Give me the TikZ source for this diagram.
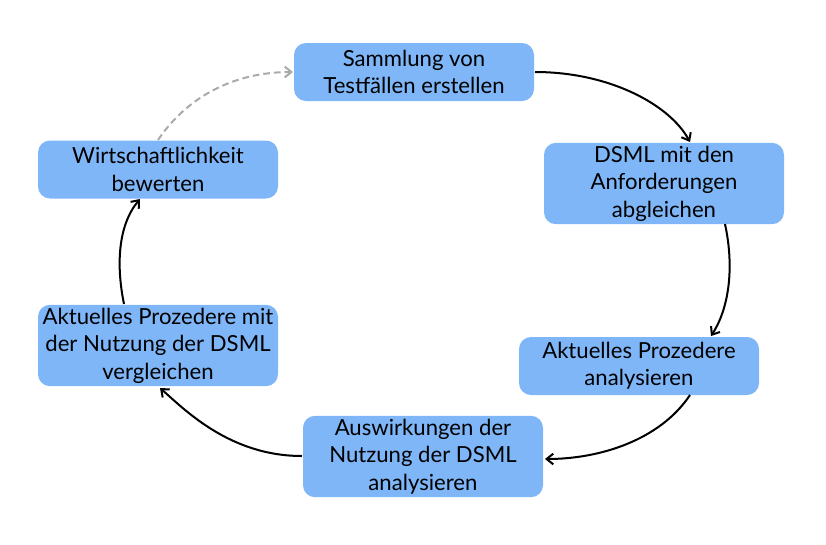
\documentclass[tikz,border=0pt]{standalone}
\usepackage{fontspec}
\setmainfont{Lato}
\usetikzlibrary{arrows.meta}
\definecolor{boxblue}{HTML}{7EB6F8}
\definecolor{dashgray}{HTML}{AAAAAA}
\begin{document}
\begin{tikzpicture}[x=0.75pt,y=-0.75pt,
  box/.style={fill=boxblue,rounded corners=9pt,minimum width=180pt,align=center,font=\fontsize{16.6}{20.6}\selectfont,inner sep=1pt},
  conn/.style={line width=1.5pt,-{Straight Barb[length=5pt,width=8pt,line width=1.5pt]}},
  dconn/.style={line width=1.5pt,draw=dashgray,dash pattern=on 5pt off 3pt,-{Straight Barb[length=5pt,width=8pt,line width=1.5pt]}}]
\useasboundingbox (0,0) rectangle (826,544);
\node[box,minimum height=43.5pt] (n1) at (414,72) {Sammlung von\\Testfällen erstellen};
\node[box,minimum height=61pt] (n2) at (664,183.5) {DSML mit den\\Anforderungen\\abgleichen};
\node[box,minimum height=43.5pt] (n3) at (639,366) {Aktuelles Prozedere\\analysieren};
\node[box,minimum height=61pt] (n4) at (423,456.5) {Auswirkungen der\\Nutzung der DSML\\analysieren};
\node[box,minimum height=61pt] (n5) at (158,345.5) {Aktuelles Prozedere mit\\der Nutzung der DSML\\vergleichen};
\node[box,minimum height=43.5pt] (n6) at (158,169.5) {Wirtschaftlichkeit\\bewerten};
\coordinate (a1) at (535,72);
\coordinate (b1) at (690,142);
\draw[conn] (a1) .. controls (610,72) and (670,105) .. (b1);
\coordinate (a2) at (725,224);
\coordinate (b2) at (711,336);
\draw[conn] (a2) .. controls (735,270) and (728,310) .. (b2);
\coordinate (a3) at (690,395);
\coordinate (b3) at (545,459);
\draw[conn] (a3) .. controls (660,440) and (600,459) .. (b3);
\coordinate (a4) at (302,456);
\coordinate (b4) at (160,388);
\draw[conn] (a4) .. controls (230,456) and (185,410) .. (b4);
\coordinate (a5) at (124,304);
\coordinate (b5) at (140,199);
\draw[conn] (a5) .. controls (116,265) and (118,225) .. (b5);
\coordinate (a6) at (158,140);
\coordinate (b6) at (293,72);
\draw[dconn] (a6) .. controls (185,100) and (230,72) .. (b6);
\end{tikzpicture}
\end{document}
